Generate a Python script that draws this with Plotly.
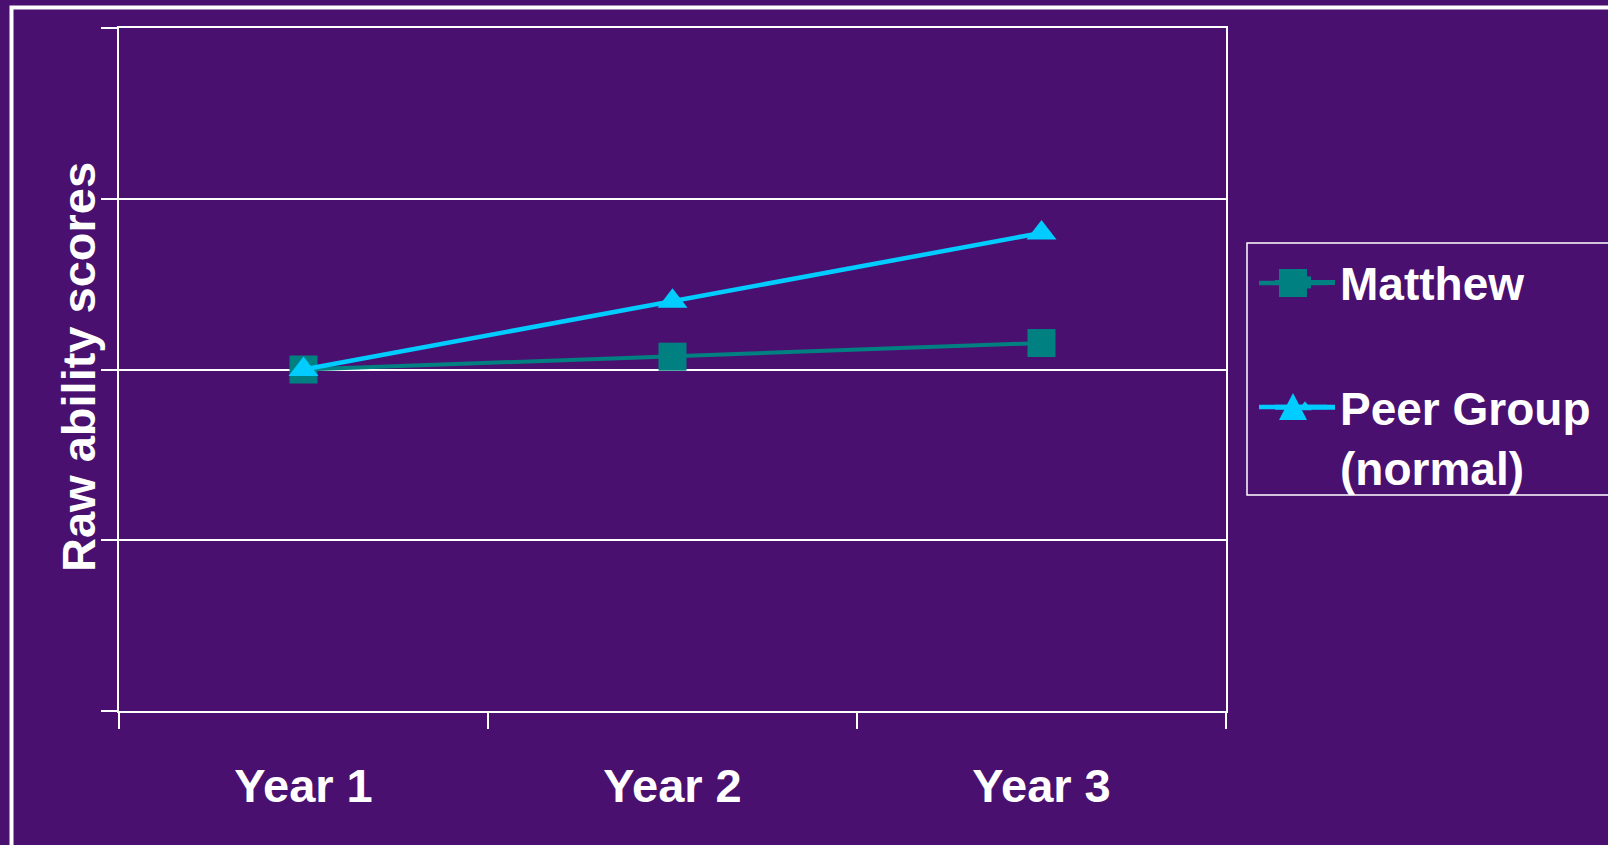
import plotly.graph_objects as go

# Chart data
years = ["Year 1", "Year 2", "Year 3"]
matthew = [2.0, 2.075, 2.155]
peer_group = [2.0, 2.4, 2.8]
series_names = ["Matthew", "Peer Group<br>(normal)"]
series_colors = ["#008080", "#00ccff"]

W, H = 1608, 845
BG = "#4a1070"
WHITE = "#ffffff"
FONT = "Liberation Sans, Arial, sans-serif"

# plot area in pixels
L, R, T, B = 119, 1226, 28, 711


def px(xp):
    return (xp - L) / (R - L)


def py(yp):
    return (B - yp) / (B - T)


fig = go.Figure()

fig.add_trace(go.Scatter(
    x=years, y=matthew, name=series_names[0], legendgroup="a",
    mode="lines+markers",
    line=dict(color=series_colors[0], width=4),
    marker=dict(symbol="square", size=28, color=series_colors[0]),
))
fig.add_trace(go.Scatter(
    x=years, y=peer_group, name=series_names[1], legendgroup="b",
    mode="lines+markers",
    line=dict(color=series_colors[1], width=4.5),
    marker=dict(symbol="triangle-up", size=26, color=series_colors[1]),
))

fig.update_layout(
    width=W, height=H,
    paper_bgcolor=BG, plot_bgcolor="rgba(0,0,0,0)",
    margin=dict(l=L, r=W - R, t=T, b=H - B, autoexpand=False),
    font=dict(family=FONT, color=WHITE, size=47, weight=700),
    showlegend=True,
    legend=dict(
        x=px(1270), xanchor="left",
        y=py(246), yanchor="top",
        bgcolor="rgba(0,0,0,0)", borderwidth=0,
        font=dict(family=FONT, color=WHITE, size=46, weight=700),
        traceorder="grouped", tracegroupgap=62,
        itemwidth=60, valign="top", itemsizing="constant",
    ),
    xaxis=dict(
        type="category", range=[-0.5, 2.5],
        tickson="boundaries", ticks="outside", ticklen=16, tickwidth=2,
        tickcolor=WHITE, showgrid=False, showline=True, linecolor=WHITE,
        linewidth=2, mirror=True, zeroline=False, ticklabelstandoff=33,
        tickfont=dict(family=FONT, color=WHITE, size=47, weight=700),
    ),
    yaxis=dict(
        range=[0, 4], dtick=1, tick0=0,
        ticks="outside", ticklen=16, tickwidth=2, tickcolor=WHITE,
        showticklabels=False, showgrid=True, gridcolor=WHITE, gridwidth=2,
        showline=True, linecolor=WHITE, linewidth=2, mirror=True,
        zeroline=False,
    ),
)

# y-axis title
fig.add_annotation(
    text="Raw ability scores", xref="paper", yref="paper",
    x=px(78), y=py(367), xanchor="center", yanchor="middle",
    textangle=-90, showarrow=False,
    font=dict(family=FONT, color=WHITE, size=47, weight=700),
)

# slide frame and legend box
fig.add_shape(type="rect", xref="paper", yref="paper",
              x0=px(11.5), x1=px(W + 20), y0=py(H + 20), y1=py(7.5),
              line=dict(color=WHITE, width=4), layer="below")
fig.add_shape(type="rect", xref="paper", yref="paper",
              x0=px(1247), x1=px(W + 20), y0=py(495), y1=py(243),
              line=dict(color=WHITE, width=1.5), layer="below")

# wider legend keys drawn over the native ones
key_x0, key_x1, key_cx = 1259, 1327, 1293
for cy, color, sym in [(283, series_colors[0], "square"),
                       (407, series_colors[1], "triangle")]:
    fig.add_shape(type="line", xref="paper", yref="paper",
                  x0=px(key_x0), x1=px(key_x1), y0=py(cy), y1=py(cy),
                  line=dict(color=color, width=4.5), layer="above")
    if sym == "square":
        fig.add_shape(type="rect", xref="paper", yref="paper",
                      x0=px(key_cx - 14), x1=px(key_cx + 14),
                      y0=py(cy + 14), y1=py(cy - 14),
                      fillcolor=color, line=dict(width=0), layer="above")
    else:
        x0p, x1p, xcp = px(key_cx - 14), px(key_cx + 14), px(key_cx)
        ytop, ybot = py(cy - 14), py(cy + 13)
        fig.add_shape(type="path", xref="paper", yref="paper",
                      path=f"M {x0p},{ybot} L {x1p},{ybot} L {xcp},{ytop} Z",
                      fillcolor=color, line=dict(width=0), layer="above")

fig.write_html("out.html")
